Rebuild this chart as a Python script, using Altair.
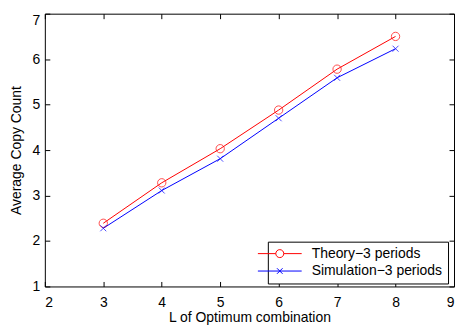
import altair as alt
import pandas as pd

# ---- data ----
L_values = [3, 4, 5, 6, 7, 8]
theory = [2.39, 3.28, 4.03, 4.88, 5.78, 6.50]
simulation = [2.28, 3.11, 3.81, 4.70, 5.59, 6.23]
series_names = ["Theory\u22123 periods", "Simulation\u22123 periods"]
x_ticks = [2, 3, 4, 5, 6, 7, 8, 9]
y_ticks = [1, 2, 3, 4, 5, 6, 7]

rows = []
for name, vals in zip(series_names, [theory, simulation]):
    for xv, yv in zip(L_values, vals):
        rows.append({"L": xv, "count": yv, "series": name})
df = pd.DataFrame(rows)

FONT = "Liberation Sans"
colors = ["#ff0000", "#0000ff"]
x_marker = "M-0.75,-0.75L0.75,0.75M-0.75,0.75L0.75,-0.75"
legend_theory = "M-6.4,0M-5.5,0L-1,0M1,0L5.5,0M-1,0A1,1 0 1,0 1,0A1,1 0 1,0 -1,0"
legend_sim = "M-6.4,0M-5.5,0L5.5,0M-0.7,-0.7L0.7,0.7M-0.7,0.7L0.7,-0.7"

xscale = alt.Scale(domain=[2, 9], nice=False, zero=False)
yscale = alt.Scale(domain=[1, 7], nice=False, zero=False)
color_scale = alt.Scale(domain=series_names, range=colors)
shape_scale = alt.Scale(domain=series_names, range=[legend_theory, legend_sim])

common_axis = dict(grid=False, domain=False, offset=-5, tickSize=5, tickColor="black",
                   tickWidth=1, labelFont=FONT, labelFontSize=14, labelColor="black",
                   titleFont=FONT, titleFontSize=14, titleFontWeight="normal",
                   titleColor="black")

axis_bottom = alt.Axis(orient="bottom", values=x_ticks, format="d", labelPadding=9,
                       title="L of Optimum combination", titlePadding=1.5, **common_axis)
axis_left = alt.Axis(orient="left", values=y_ticks, format="d", labelPadding=5,
                     labelBaseline=alt.condition("datum.value == 7", alt.value("top"), alt.value("middle")),
                     title="Average Copy Count", titlePadding=9, **common_axis)
axis_top = alt.Axis(orient="top", values=x_ticks, labels=False, title=None, **common_axis)
axis_right = alt.Axis(orient="right", values=y_ticks, labels=False, title=None, **common_axis)

legend_a = alt.Legend(title=None, orient="none", legendX=224, legendY=229)
legend_b = alt.Legend(title=None, orient="none", legendX=224, legendY=229,
                      strokeColor="black", fillColor="white", padding=5,
                      symbolSize=64, symbolStrokeWidth=1, symbolOpacity=1,
                      symbolStrokeColor="black",
                      labelOffset=25, labelFont=FONT, labelFontSize=14,
                      labelExpr="datum.label + '\u00a0'",
                      labelColor="black", rowPadding=3.5)

base = alt.Chart(df)

lines = base.mark_line(strokeWidth=1).encode(
    x=alt.X("L:Q", scale=xscale, axis=axis_bottom),
    y=alt.Y("count:Q", scale=yscale, axis=axis_left),
    color=alt.Color("series:N", scale=color_scale, legend=legend_a),
    detail="series:N",
)

theory_pts = base.transform_filter(alt.datum.series == series_names[0]).mark_point(
    shape="circle", size=70, filled=False, strokeWidth=1
).encode(
    x=alt.X("L:Q", scale=xscale, axis=axis_top),
    y=alt.Y("count:Q", scale=yscale, axis=axis_right),
    color=alt.Color("series:N", scale=color_scale, legend=None),
)

sim_pts = base.transform_filter(alt.datum.series == series_names[1]).mark_point(
    shape=x_marker, size=64, filled=False, strokeWidth=1
).encode(
    x=alt.X("L:Q", scale=xscale, axis=None),
    y=alt.Y("count:Q", scale=yscale, axis=None),
    color=alt.Color("series:N", scale=color_scale, legend=None),
)

legend_layer = base.transform_filter("false").mark_point(filled=False).encode(
    x=alt.X("L:Q", scale=xscale, axis=None),
    y=alt.Y("count:Q", scale=yscale, axis=None),
    shape=alt.Shape("series:N", scale=shape_scale, legend=legend_b),
)

chart = alt.layer(lines, theory_pts, sim_pts, legend_layer).resolve_axis(
    x="independent", y="independent"
).properties(
    width=411, height=274,
    autosize=alt.AutoSizeParams(type="none"),
    padding={"left": 37, "top": 5, "right": 1, "bottom": 38},
    background="white",
).configure_view(stroke="black", strokeWidth=1)

chart.save("out.html", embed_options={"renderer": "svg", "actions": False})
